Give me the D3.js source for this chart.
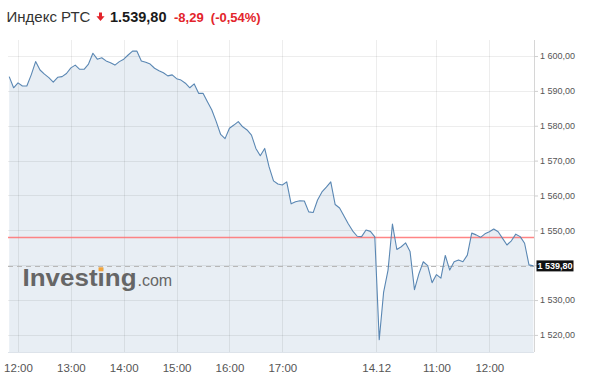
<!DOCTYPE html>
<html><head><meta charset="utf-8">
<script src="https://cdn.jsdelivr.net/npm/d3@7/dist/d3.min.js"></script>
<style>
html,body{margin:0;padding:0;background:#fff;}
svg{display:block;font-family:"Liberation Sans",Arial,sans-serif;}
</style></head>
<body>
<svg id="chart" width="590" height="383"></svg>
<script>
// ---- data ----
const title = "Индекс РТС";
const lastValue = 1539.80;
const change = -8.29;
const changePct = -0.54;
const prevClose = 1548.09;

const sessionDates = ["13.12", "14.12"];
const sessionStarts = ["11:50", "09:55"];
const barMinutes = 5;

// 13.12, 11:50 .. 18:45 (5-min bars)
const day1Values = [
  1594.1, 1590.9, 1592.3, 1591.4, 1591.4, 1594.6, 1598.4, 1596.0, 1594.8, 1593.8,
  1592.5, 1593.9, 1594.1, 1595.0, 1596.6, 1597.4, 1596.2, 1596.2, 1597.7, 1600.8,
  1599.1, 1599.5, 1598.6, 1598.1, 1597.4, 1598.4, 1599.1, 1600.3, 1601.4, 1601.4,
  1598.6, 1598.2, 1597.7, 1596.5, 1595.8, 1595.2, 1594.3, 1594.6, 1593.5, 1593.1,
  1592.2, 1590.9, 1592.0, 1589.3, 1589.3, 1586.9, 1584.5, 1581.2, 1577.5, 1576.3,
  1579.3, 1580.2, 1581.2, 1579.7, 1578.8, 1577.3, 1573.5, 1571.4, 1573.5, 1568.2,
  1564.2, 1563.3, 1563.0, 1563.9, 1557.6, 1558.2, 1558.5, 1558.4, 1555.3, 1555.1,
  1558.7, 1561.0, 1562.4, 1563.9, 1557.4, 1556.4, 1554.1, 1551.8, 1549.8, 1548.3,
  1548.2, 1550.1, 1549.7, 1548.1
];
// 14.12, 09:55 .. 12:50 (5-min bars)
const day2Values = [
  1518.6, 1532.3, 1538.6, 1551.8, 1544.5, 1545.3, 1546.4, 1543.9, 1533.0, 1537.5,
  1541.0, 1539.9, 1535.0, 1537.3, 1536.3, 1542.8, 1538.6, 1541.0, 1541.5, 1541.0,
  1542.9, 1549.2, 1548.7, 1548.0, 1549.0, 1549.6, 1550.4, 1549.6, 1547.7, 1545.8,
  1547.0, 1548.9, 1548.2, 1546.3, 1540.1, 1539.8
];

const xTickLabels = ["12:00", "13:00", "14:00", "15:00", "16:00", "17:00", "14.12", "11:00", "12:00"];
const xTickSession = [0, 0, 0, 0, 0, 0, 1, 1, 1];
const yTicks = [1520, 1530, 1540, 1550, 1560, 1570, 1580, 1590, 1600];
const yDomain = [1515.1, 1604.6];

// ---- build bars ----
function toMin(s){ const p = s.split(":"); return +p[0]*60 + +p[1]; }
function toStr(m){ return String(Math.floor(m/60)).padStart(2,"0") + ":" + String(m%60).padStart(2,"0"); }
const bars = [];
[day1Values, day2Values].forEach((vals, si) => {
  const start = toMin(sessionStarts[si]);
  vals.forEach((v, k) => bars.push({session: si, date: sessionDates[si], time: toStr(start + k*barMinutes), value: v}));
});
bars.forEach((b, i) => b.i = i);

// ---- layout ----
const plot = {left: 8, right: 534, top: 40, bottom: 352};
const svg = d3.select("#chart");
const x = d3.scaleLinear().domain([0, bars.length - 1]).range([9.2, 533.4]);
const y = d3.scaleLinear().domain(yDomain).range([plot.bottom, plot.top]);

// fill area
const area = d3.area().x(d => x(d.i)).y0(plot.bottom).y1(d => y(d.value));
svg.append("path").datum(bars).attr("d", area).attr("fill", "#e8eef4");

// tick positions
const firstDay2 = bars.findIndex(b => b.session === 1);
const xTickPos = xTickLabels.map((lab, k) => {
  if (lab.includes(".")) return firstDay2 - 0.7;
  return bars.find(b => b.session === xTickSession[k] && b.time === lab).i;
});

// grid
const grid = svg.append("g").attr("stroke", "#000").attr("stroke-opacity", 0.07).attr("shape-rendering", "crispEdges");
grid.selectAll("line.h").data(yTicks).join("line")
  .attr("x1", plot.left).attr("x2", plot.right)
  .attr("y1", d => Math.round(y(d)) + 0.5).attr("y2", d => Math.round(y(d)) + 0.5);
grid.selectAll("line.v").data(xTickPos).join("line")
  .attr("y1", plot.top).attr("y2", plot.bottom)
  .attr("x1", d => Math.round(x(d)) + 0.5).attr("x2", d => Math.round(x(d)) + 0.5);

// axis frame
svg.append("line").attr("x1", plot.right + 0.5).attr("x2", plot.right + 0.5)
  .attr("y1", plot.top).attr("y2", plot.bottom).attr("stroke", "#d6d6d6");
svg.append("line").attr("x1", plot.left).attr("x2", plot.right)
  .attr("y1", plot.bottom + 0.5).attr("y2", plot.bottom + 0.5).attr("stroke", "#dde3ea");

// logo watermark
const logo = svg.append("g");
logo.append("text").attr("x", 22.5).attr("y", 285.5)
  .attr("font-size", 24.5).attr("font-weight", "bold").attr("fill", "#666")
  .attr("textLength", 114).attr("lengthAdjust", "spacingAndGlyphs")
  .text("Investing");
logo.append("rect").attr("x", 98.6).attr("y", 267.3).attr("width", 4.8).attr("height", 4).attr("fill", "#f3a43b");
logo.append("text").attr("x", 137.5).attr("y", 285.5)
  .attr("font-size", 16).attr("fill", "#666").text(".com");

// previous close line
svg.append("rect").attr("x", plot.left).attr("width", plot.right - plot.left)
  .attr("y", Math.round(y(prevClose)) - 0.25).attr("height", 1.5)
  .attr("fill", "#ff7070").attr("fill-opacity", 0.85);

// last value dashed line
svg.append("line").attr("x1", plot.left).attr("x2", plot.right)
  .attr("y1", Math.round(y(lastValue)) + 0.5).attr("y2", Math.round(y(lastValue)) + 0.5)
  .attr("stroke", "#b8b8b8").attr("stroke-dasharray", "5,4").attr("shape-rendering", "crispEdges");

// price line
const line = d3.line().x(d => x(d.i)).y(d => y(d.value));
svg.append("path").datum(bars).attr("d", line)
  .attr("fill", "none").attr("stroke", "#5a87b3").attr("stroke-width", 1.1)
  .attr("stroke-linejoin", "round");

// right axis labels (the label hidden behind the last-value tag is left out)
const fmtAxis = d3.formatLocale({decimal: ",", thousands: " ", grouping: [3], currency: ["", ""]}).format(",.2f");
const yAxis = d3.axisRight(y).tickValues(yTicks).tickSize(4).tickPadding(2)
  .tickFormat(d => Math.abs(y(d) - y(lastValue)) < 10 ? "" : fmtAxis(d));
const ya = svg.append("g").attr("transform", `translate(${plot.right},0)`).call(yAxis);
ya.select(".domain").remove();
ya.selectAll(".tick line").attr("stroke", "#cfcfcf");
ya.selectAll(".tick text").attr("fill", "#555").attr("font-size", 9)
  .attr("font-family", "\"Liberation Sans\",Arial,sans-serif");

// last value tag
const tagY = y(lastValue);
svg.append("rect").attr("x", 536.5).attr("y", tagY - 5.5).attr("width", 37).attr("height", 11).attr("fill", "#111");
svg.append("text").attr("x", 555).attr("y", tagY + 3.3).attr("text-anchor", "middle")
  .attr("font-size", 9).attr("font-weight", "bold").attr("fill", "#fff").text(fmtAxis(lastValue));

// bottom axis labels
const xAxis = d3.axisBottom(x).tickValues(xTickPos).tickSize(0).tickPadding(12)
  .tickFormat((d, k) => xTickLabels[k]);
const xa = svg.append("g").attr("transform", `translate(0,${plot.bottom})`).call(xAxis);
xa.select(".domain").remove();
xa.selectAll(".tick text").attr("fill", "#555").attr("font-size", 11.5)
  .attr("font-family", "\"Liberation Sans\",Arial,sans-serif");

// header
const fmtHead = d3.formatLocale({decimal: ",", thousands: ".", grouping: [3], currency: ["", ""]}).format(",.2f");
const fmtChg = d3.formatLocale({decimal: ",", thousands: ".", grouping: [3], currency: ["", ""], minus: "-"}).format(".2f");
svg.append("text").attr("x", 6.5).attr("y", 22).attr("font-size", 15).attr("fill", "#333").text(title);
svg.append("path")
  .attr("d", "M99,12.5 H102 V16.2 H104.6 L100.5,21 L96.4,16.2 H99 Z")
  .attr("fill", "#e3242b");
svg.append("text").attr("x", 110).attr("y", 22).attr("font-size", 14.5).attr("font-weight", "bold")
  .attr("fill", "#1a1a1a").text(fmtHead(lastValue));
svg.append("text").attr("x", 174).attr("y", 22).attr("font-size", 13).attr("font-weight", "bold")
  .attr("fill", "#e3242b").text(fmtChg(change) + "  (" + fmtChg(changePct) + "%)")
  .style("white-space", "pre");
</script>
</body></html>
